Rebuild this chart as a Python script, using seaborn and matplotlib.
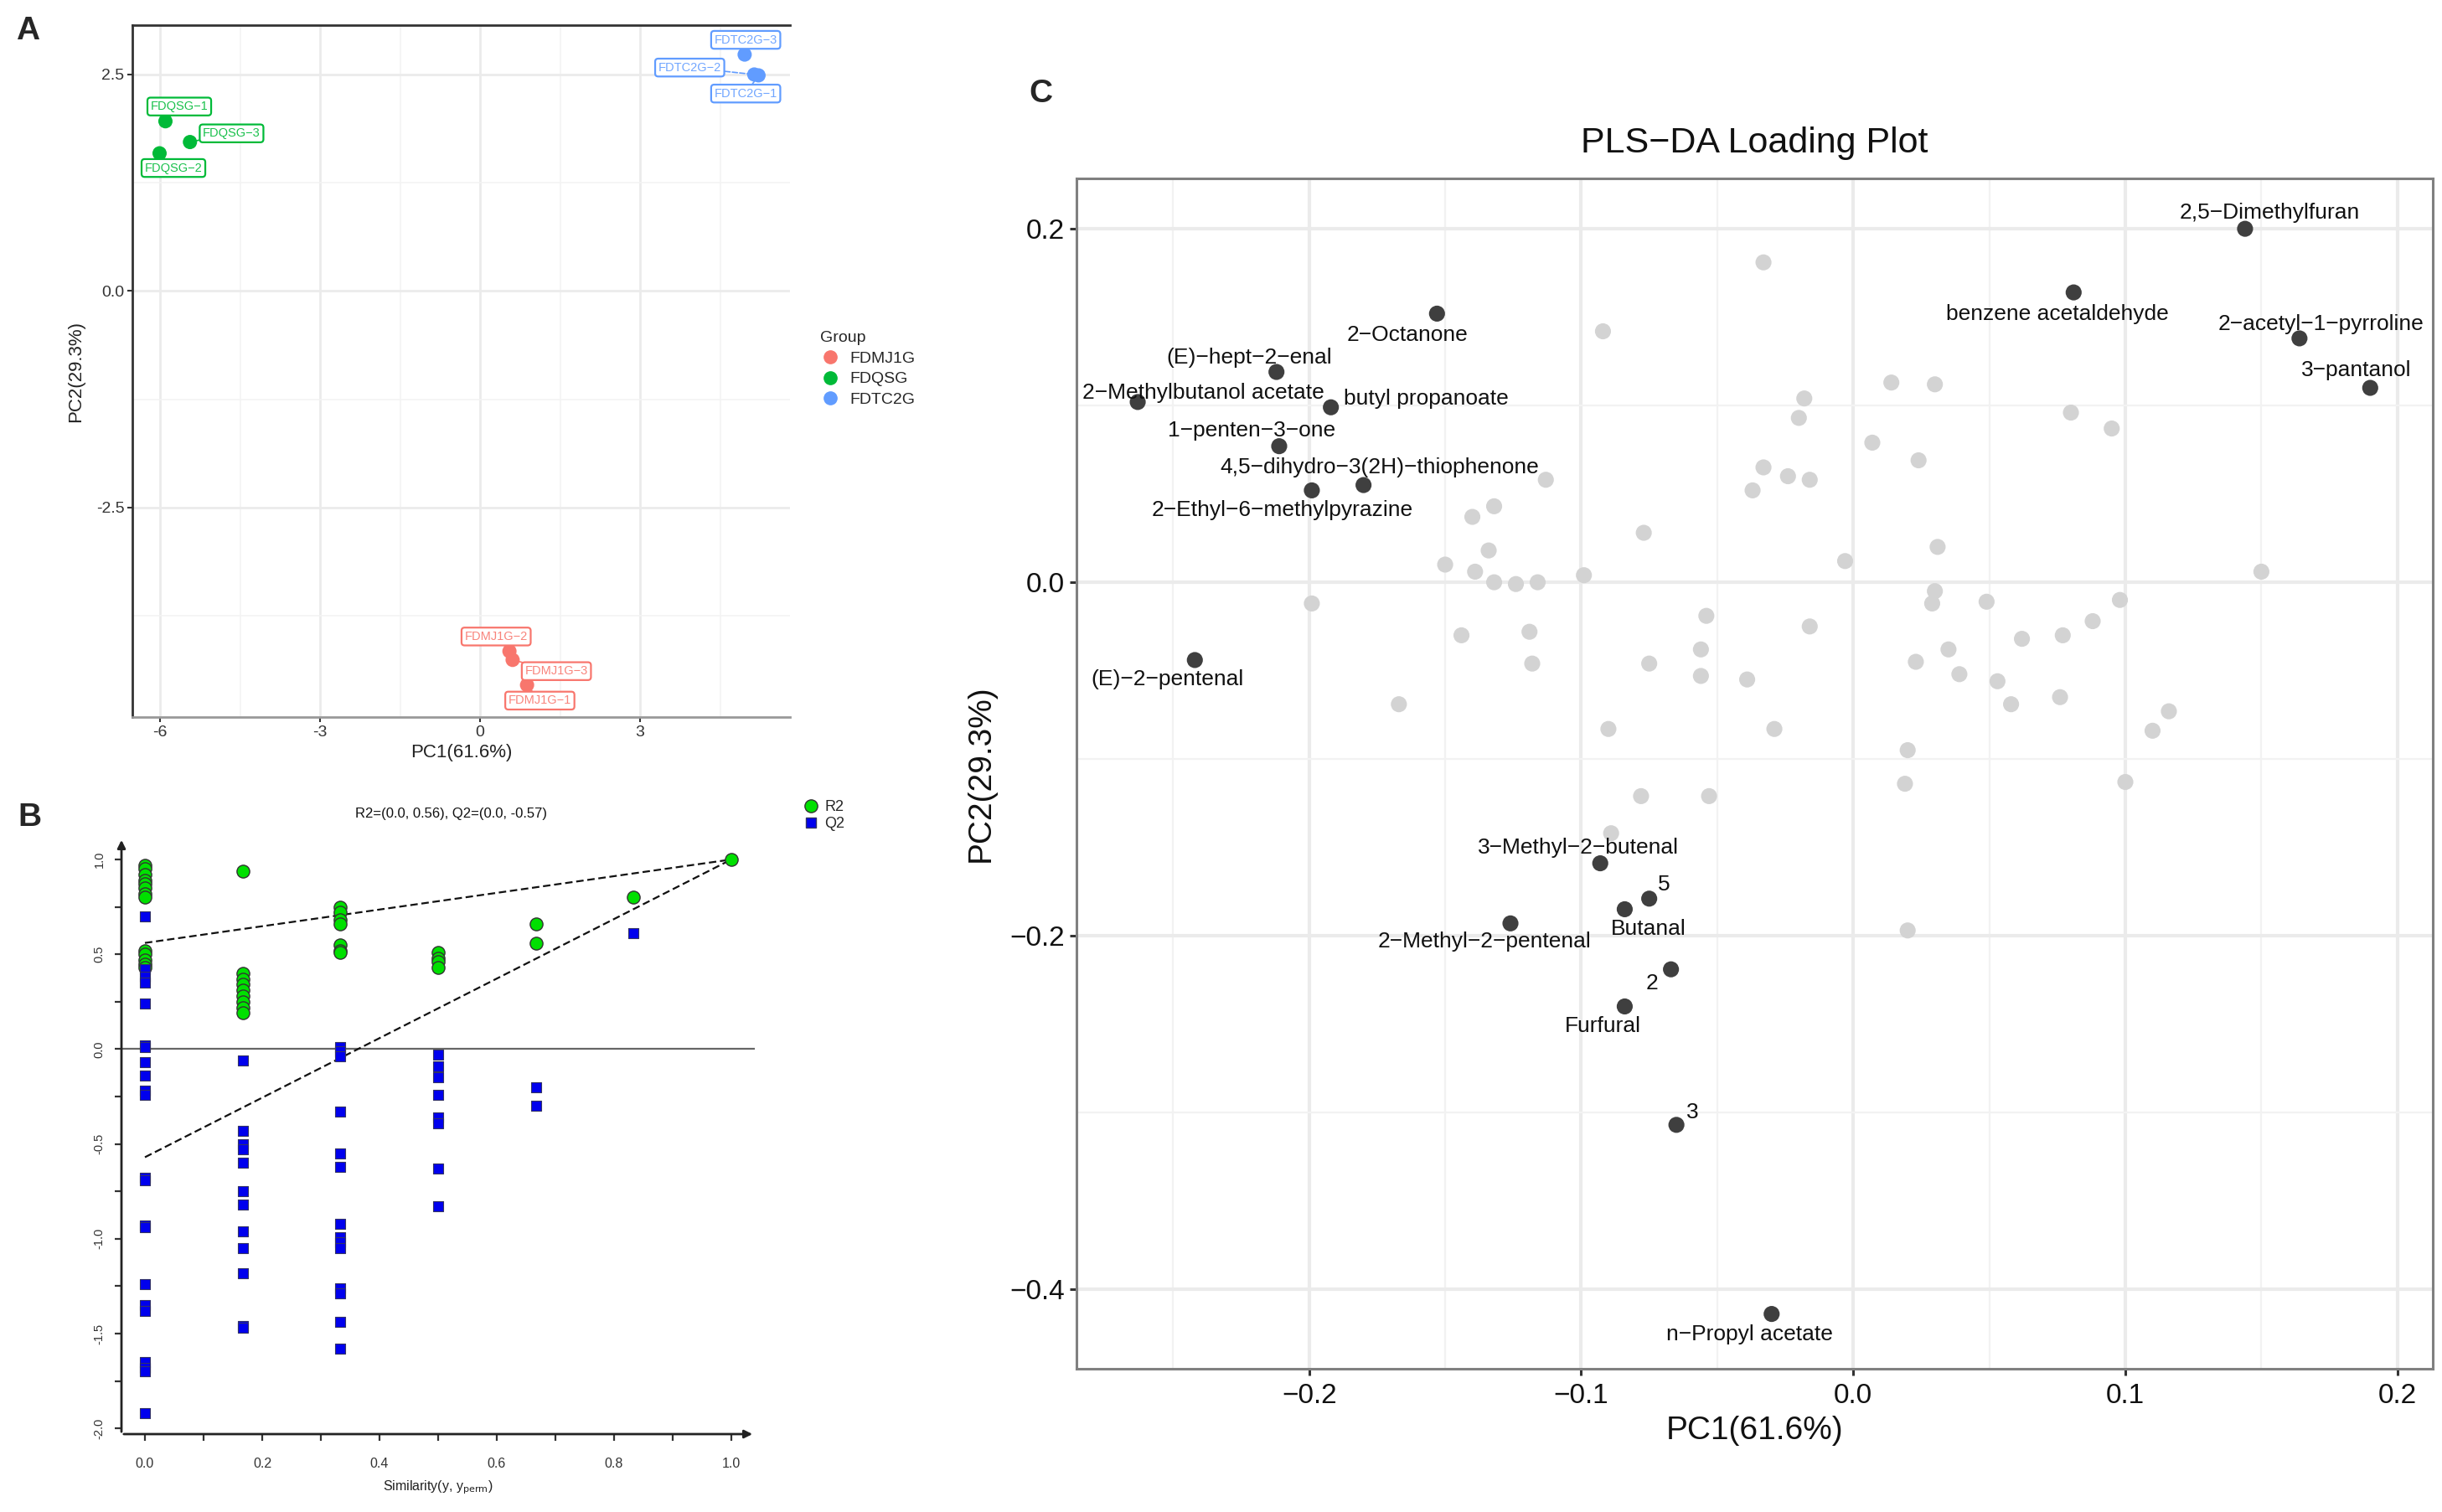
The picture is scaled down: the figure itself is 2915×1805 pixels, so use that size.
import numpy as np
import pandas as pd
import seaborn as sns
import matplotlib.pyplot as plt
from matplotlib.lines import Line2D
from matplotlib.ticker import FuncFormatter

# ---------------- Panel A data (PLS-DA scores) ----------------
a_sample = ['FDMJ1G-1', 'FDMJ1G-2', 'FDMJ1G-3', 'FDQSG-1', 'FDQSG-2', 'FDQSG-3',
            'FDTC2G-1', 'FDTC2G-2', 'FDTC2G-3']
a_group = ['FDMJ1G', 'FDMJ1G', 'FDMJ1G', 'FDQSG', 'FDQSG', 'FDQSG',
           'FDTC2G', 'FDTC2G', 'FDTC2G']
a_pc1 = [0.88, 0.55, 0.61, -5.90, -6.01, -5.44, 5.22, 5.14, 4.96]
a_pc2 = [-4.55, -4.16, -4.26, 1.96, 1.59, 1.72, 2.49, 2.50, 2.73]
a_lab_x = [1.12, 0.30, 1.43, -5.64, -5.75, -4.66, 4.98, 3.93, 4.98]
a_lab_y = [-4.73, -3.99, -4.39, 2.13, 1.42, 1.82, 2.28, 2.58, 2.90]
a_groups = ['FDMJ1G', 'FDQSG', 'FDTC2G']
a_colors = ['#F8766D', '#00BA38', '#619CFF']

# ---------------- Panel B data (permutation test) ----------------
r2_sim = [0.0, 0.0, 0.0, 0.0, 0.0, 0.0, 0.0, 0.0, 0.0, 0.0, 0.0, 0.0, 0.0,
          0.167, 0.167, 0.167, 0.167, 0.167, 0.167, 0.167, 0.167, 0.167,
          0.333, 0.333, 0.333, 0.333, 0.333, 0.333, 0.333,
          0.5, 0.5, 0.5, 0.5,
          0.667, 0.667,
          0.833,
          1.0]
r2_val = [0.97, 0.95, 0.92, 0.89, 0.87, 0.85, 0.82, 0.80, 0.52, 0.50, 0.47, 0.45, 0.43,
          0.94, 0.40, 0.37, 0.34, 0.31, 0.28, 0.25, 0.22, 0.19,
          0.75, 0.72, 0.68, 0.66, 0.55, 0.52, 0.51,
          0.51, 0.48, 0.46, 0.43,
          0.66, 0.56,
          0.80,
          1.00]
q2_sim = [0.0, 0.0, 0.0, 0.0, 0.0, 0.0, 0.0, 0.0, 0.0, 0.0, 0.0,
          0.0, 0.0, 0.0, 0.0, 0.0, 0.0, 0.0, 0.0, 0.0, 0.0, 0.0,
          0.167, 0.167, 0.167, 0.167, 0.167, 0.167, 0.167, 0.167, 0.167, 0.167, 0.167, 0.167,
          0.333, 0.333, 0.333, 0.333, 0.333, 0.333, 0.333, 0.333, 0.333, 0.333, 0.333, 0.333, 0.333, 0.333,
          0.5, 0.5, 0.5, 0.5, 0.5, 0.5, 0.5, 0.5,
          0.667, 0.667,
          0.833]
q2_val = [0.70, 0.42, 0.38, 0.35, 0.24, 0.02, 0.01, -0.07, -0.14, -0.22, -0.24,
          -0.68, -0.69, -0.93, -0.94, -1.24, -1.35, -1.38, -1.65, -1.68, -1.70, -1.92,
          -0.06, -0.43, -0.50, -0.53, -0.60, -0.75, -0.82, -0.96, -1.05, -1.18, -1.46, -1.47,
          0.01, -0.01, -0.04, -0.33, -0.55, -0.62, -0.92, -0.99, -1.02, -1.05, -1.26, -1.29, -1.44, -1.58,
          -0.03, -0.09, -0.15, -0.24, -0.36, -0.39, -0.63, -0.83,
          -0.20, -0.30,
          0.61]
r2_intercept = 0.56
q2_intercept = -0.57
orig_sim = 1.0
orig_val = 1.0

# ---------------- Panel C data (loadings) ----------------
c_gray_x = [-0.033, -0.092, 0.014, 0.030, -0.018, -0.020, 0.080, 0.095, 0.007, 0.024,
            -0.033, -0.024, -0.016, -0.037, -0.113, -0.132, -0.140, -0.077, -0.134, -0.150,
            -0.139, -0.132, -0.124, -0.116, -0.099, -0.003, 0.031, 0.150, -0.199, 0.030,
            0.029, 0.049, 0.098, -0.054, -0.016, 0.088, -0.144, -0.119, 0.062, 0.077,
            -0.056, 0.035, -0.118, -0.075, 0.023, -0.056, -0.039, 0.039, 0.053, 0.076,
            0.058, -0.167, 0.116, 0.110, -0.090, -0.029, 0.020, 0.019, 0.100, -0.078,
            -0.053, -0.089, 0.020]
c_gray_y = [0.181, 0.142, 0.113, 0.112, 0.104, 0.093, 0.096, 0.087, 0.079, 0.069,
            0.065, 0.060, 0.058, 0.052, 0.058, 0.043, 0.037, 0.028, 0.018, 0.010,
            0.006, 0.000, -0.001, 0.000, 0.004, 0.012, 0.020, 0.006, -0.012, -0.005,
            -0.012, -0.011, -0.010, -0.019, -0.025, -0.022, -0.030, -0.028, -0.032, -0.030,
            -0.038, -0.038, -0.046, -0.046, -0.045, -0.053, -0.055, -0.052, -0.056, -0.065,
            -0.069, -0.069, -0.073, -0.084, -0.083, -0.083, -0.095, -0.114, -0.113, -0.121,
            -0.121, -0.142, -0.197]
c_names = ['2,5\u2212Dimethylfuran', 'benzene acetaldehyde', '2\u2212acetyl\u22121\u2212pyrroline',
           '3\u2212pantanol', '2\u2212Octanone', '(E)\u2212hept\u22122\u2212enal',
           '2\u2212Methylbutanol acetate', 'butyl propanoate', '1\u2212penten\u22123\u2212one',
           '4,5\u2212dihydro\u22123(2H)\u2212thiophenone', '2\u2212Ethyl\u22126\u2212methylpyrazine',
           '(E)\u22122\u2212pentenal', '3\u2212Methyl\u22122\u2212butenal', '5', 'Butanal',
           '2\u2212Methyl\u22122\u2212pentenal', '2', 'Furfural', '3', 'n\u2212Propyl acetate']
c_x = [0.144, 0.081, 0.164, 0.190, -0.153, -0.212, -0.263, -0.192, -0.211, -0.180,
       -0.199, -0.242, -0.093, -0.075, -0.084, -0.126, -0.067, -0.084, -0.065, -0.030]
c_y = [0.200, 0.164, 0.138, 0.110, 0.152, 0.119, 0.102, 0.099, 0.077, 0.055,
       0.052, -0.044, -0.159, -0.179, -0.185, -0.193, -0.219, -0.240, -0.307, -0.414]
c_lab_x = [0.153, 0.075, 0.172, 0.185, -0.164, -0.222, -0.239, -0.157, -0.221, -0.174,
           -0.210, -0.252, -0.101, -0.0695, -0.0753, -0.1356, -0.074, -0.092, -0.059, -0.038]
c_lab_y = [0.209, 0.1515, 0.146, 0.120, 0.140, 0.127, 0.107, 0.104, 0.086, 0.065,
           0.041, -0.055, -0.150, -0.171, -0.196, -0.2035, -0.227, -0.251, -0.300, -0.4255]

# ---------------- Figure ----------------
sns.set_theme(style='white')
plt.rcParams['font.family'] = ['Liberation Sans', 'DejaVu Sans']
plt.rcParams['axes.unicode_minus'] = True

fig = plt.figure(figsize=(29.15, 18.05), dpi=100)
W, H = 2915.0, 1805.0


def frac_box(l, t, r, b):
    return [l / W, 1 - b / H, (r - l) / W, (b - t) / H]


def fmt(spec, minus='\u2212'):
    return FuncFormatter(lambda v, p: (spec % v).replace('-', minus))


# ---------------- Panel A ----------------
axA = fig.add_axes(frac_box(158, 30, 943, 856))
dfA = pd.DataFrame({'Sample': a_sample, 'Group': a_group, 'PC1': a_pc1, 'PC2': a_pc2,
                    'lx': a_lab_x, 'ly': a_lab_y})
palA = dict(zip(a_groups, a_colors))
sns.scatterplot(data=dfA, x='PC1', y='PC2', hue='Group', palette=palA, hue_order=a_groups,
                s=150, edgecolor='none', legend=False, ax=axA, zorder=3)
for _, r in dfA.iterrows():
    c = palA[r['Group']]
    axA.annotate(r['Sample'].replace('-', '\u2212'), xy=(r['PC1'], r['PC2']),
                 xytext=(r['lx'], r['ly']),
                 ha='center', va='center', fontsize=10.5, color=c, alpha=0.9, zorder=4,
                 bbox=dict(boxstyle='round,pad=0.25', fc='white', ec=c, lw=1.6),
                 arrowprops=dict(arrowstyle='-', color=c, lw=1.2, ls='--',
                                 shrinkA=0, shrinkB=6))
axA.set_xlim(-6.52, 5.81)
axA.set_ylim(-4.92, 3.07)
axA.set_xticks([-6, -3, 0, 3])
axA.set_yticks([-2.5, 0, 2.5])
axA.set_xticks([-4.5, -1.5, 1.5, 4.5], minor=True)
axA.set_yticks([-3.75, -1.25, 1.25], minor=True)
axA.xaxis.set_major_formatter(fmt('%g', '-'))
axA.yaxis.set_major_formatter(fmt('%.1f', '-'))
axA.grid(True, which='major', color='#EBEBEB', lw=2.0)
axA.grid(True, which='minor', color='#F3F3F3', lw=1.2)
axA.set_axisbelow(True)
axA.tick_params(which='major', direction='out', length=4, width=1.5, colors='#333333',
                labelsize=14, pad=3, bottom=True, left=True)
axA.tick_params(which='minor', length=0)
for s in ['top', 'left']:
    axA.spines[s].set_color('#333333')
    axA.spines[s].set_linewidth(2)
axA.spines['bottom'].set_color('#999999')
axA.spines['bottom'].set_linewidth(2)
axA.spines['right'].set_visible(False)
axA.set_xlabel('PC1(61.6%)', fontsize=16, labelpad=4, color='#222222')
axA.set_ylabel('PC2(29.3%)', fontsize=16, labelpad=10, color='#222222')

handlesA = [Line2D([], [], marker='o', ls='', color=c, markersize=11) for c in a_colors]
legA = fig.legend(handlesA, a_groups, title='Group', loc='upper left',
                  bbox_to_anchor=(962 / W, 1 - 378 / H), frameon=False, fontsize=14,
                  title_fontsize=14, handletextpad=0.6, labelspacing=0.35,
                  handlelength=1.2)
legA._legend_box.align = 'left'

# ---------------- Panel B ----------------
axB = fig.add_axes(frac_box(145, 1000, 901, 1712))
dfR2 = pd.DataFrame({'sim': r2_sim, 'val': r2_val})
dfQ2 = pd.DataFrame({'sim': q2_sim, 'val': q2_val})
axB.axhline(0, color='#666666', lw=1.6, zorder=1)
axB.plot([0.0, orig_sim], [r2_intercept, orig_val], ls=(0, (4, 2)), color='#111111', lw=1.6, zorder=2)
axB.plot([0.0, orig_sim], [q2_intercept, orig_val], ls=(0, (4, 2)), color='#111111', lw=1.6, zorder=2)
sns.scatterplot(data=dfR2, x='sim', y='val', marker='o', color='#00E000', s=120,
                edgecolor='#333333', linewidth=1.0, ax=axB, zorder=3)
sns.scatterplot(data=dfQ2, x='sim', y='val', marker='s', color='#0000EE', s=85,
                edgecolor='#333366', linewidth=0.8, ax=axB, zorder=4)
axB.set_xlim(-0.04, 1.04)
axB.set_ylim(-2.03, 1.115)
for s in axB.spines.values():
    s.set_visible(False)
axB.annotate('', xy=(0, 1), xytext=(0, 0), xycoords='axes fraction',
             arrowprops=dict(arrowstyle='-|>', color='#222222', lw=2, mutation_scale=14))
axB.annotate('', xy=(1, 0), xytext=(0, 0), xycoords='axes fraction',
             arrowprops=dict(arrowstyle='-|>', color='#222222', lw=2, mutation_scale=14))
axB.set_xticks([0.0, 0.2, 0.4, 0.6, 0.8, 1.0])
axB.set_xticks([0.1, 0.3, 0.5, 0.7, 0.9], minor=True)
axB.set_yticks([-2.0, -1.5, -1.0, -0.5, 0.0, 0.5, 1.0])
axB.set_yticks([-1.75, -1.25, -0.75, -0.25, 0.25, 0.75], minor=True)
axB.xaxis.set_major_formatter(fmt('%.1f', '-'))
axB.yaxis.set_major_formatter(fmt('%.1f', '-'))
axB.tick_params(which='both', direction='out', length=6, width=1.6, colors='#333333',
                bottom=True, left=True)
axB.tick_params(axis='x', labelsize=11.5, pad=14)
axB.tick_params(axis='y', labelsize=10.5, pad=8, labelrotation=90)
for lab in axB.get_yticklabels():
    lab.set_va('center')
axB.set_xlabel('Similarity(y, y$_{\\mathrm{perm}}$)', fontsize=11.5, labelpad=8, color='#222222')
axB.set_ylabel('')
axB.set_title('R2=(0.0, 0.56), Q2=(0.0, -0.57)', fontsize=12, pad=17, x=0.521,
              color='#111111')
handlesB = [Line2D([], [], marker='o', ls='', markerfacecolor='#00E000',
                   markeredgecolor='#333333', markersize=11),
            Line2D([], [], marker='s', ls='', markerfacecolor='#0000EE',
                   markeredgecolor='#333366', markersize=9)]
fig.legend(handlesB, ['R2', 'Q2'], loc='upper left', bbox_to_anchor=(952 / W, 1 - 948 / H),
           frameon=False, fontsize=13, handletextpad=0.4, labelspacing=0.15,
           handlelength=1.0, borderaxespad=0)

# ---------------- Panel C ----------------
axC = fig.add_axes(frac_box(1285, 213, 2904, 1634))
dfCg = pd.DataFrame({'x': c_gray_x, 'y': c_gray_y})
dfCd = pd.DataFrame({'name': c_names, 'x': c_x, 'y': c_y, 'lx': c_lab_x, 'ly': c_lab_y})
sns.scatterplot(data=dfCg, x='x', y='y', color='#D3D3D3', s=190, edgecolor='none',
                ax=axC, zorder=3)
sns.scatterplot(data=dfCd, x='x', y='y', color='#3F3F3F', s=190, edgecolor='none',
                ax=axC, zorder=4)
for _, r in dfCd.iterrows():
    axC.text(r['lx'], r['ly'], r['name'], ha='center', va='center', fontsize=19,
             color='#111111', zorder=5)
axC.set_xlim(-0.2855, 0.213)
axC.set_ylim(-0.445, 0.2285)
axC.set_xticks([-0.2, -0.1, 0.0, 0.1, 0.2])
axC.set_yticks([-0.4, -0.2, 0.0, 0.2])
axC.set_xticks([-0.25, -0.15, -0.05, 0.05, 0.15], minor=True)
axC.set_yticks([-0.3, -0.1, 0.1], minor=True)
axC.xaxis.set_major_formatter(fmt('%.1f'))
axC.yaxis.set_major_formatter(fmt('%.1f'))
axC.grid(True, which='major', color='#EBEBEB', lw=3.0)
axC.grid(True, which='minor', color='#F2F2F2', lw=1.6)
axC.set_axisbelow(True)
axC.tick_params(which='major', direction='out', length=6, width=2.2, colors='#333333',
                labelsize=24, bottom=True, left=True)
axC.tick_params(axis='x', which='major', pad=6)
axC.tick_params(axis='y', which='major', pad=4)
axC.tick_params(which='minor', length=0)
for lab in axC.get_xticklabels() + axC.get_yticklabels():
    lab.set_color('#111111')
for s in axC.spines.values():
    s.set_color('#808080')
    s.set_linewidth(2.2)
axC.set_xlabel('PC1(61.6%)', fontsize=28, labelpad=6, color='#111111')
axC.set_ylabel('PC2(29.3%)', fontsize=28, labelpad=12, color='#111111')
axC.set_title('PLS\u2212DA Loading Plot', fontsize=31, pad=22, color='#111111')

# ---------------- Panel letters ----------------
fig.text(33 / W, 1 - 37 / H, 'A', fontsize=28, fontweight='bold', ha='center', va='center')
fig.text(35 / W, 1 - 976 / H, 'B', fontsize=28, fontweight='bold', ha='center', va='center')
fig.text(1242 / W, 1 - 112 / H, 'C', fontsize=28, fontweight='bold', ha='center', va='center')

fig.savefig('out.png', dpi=100, facecolor='white')
